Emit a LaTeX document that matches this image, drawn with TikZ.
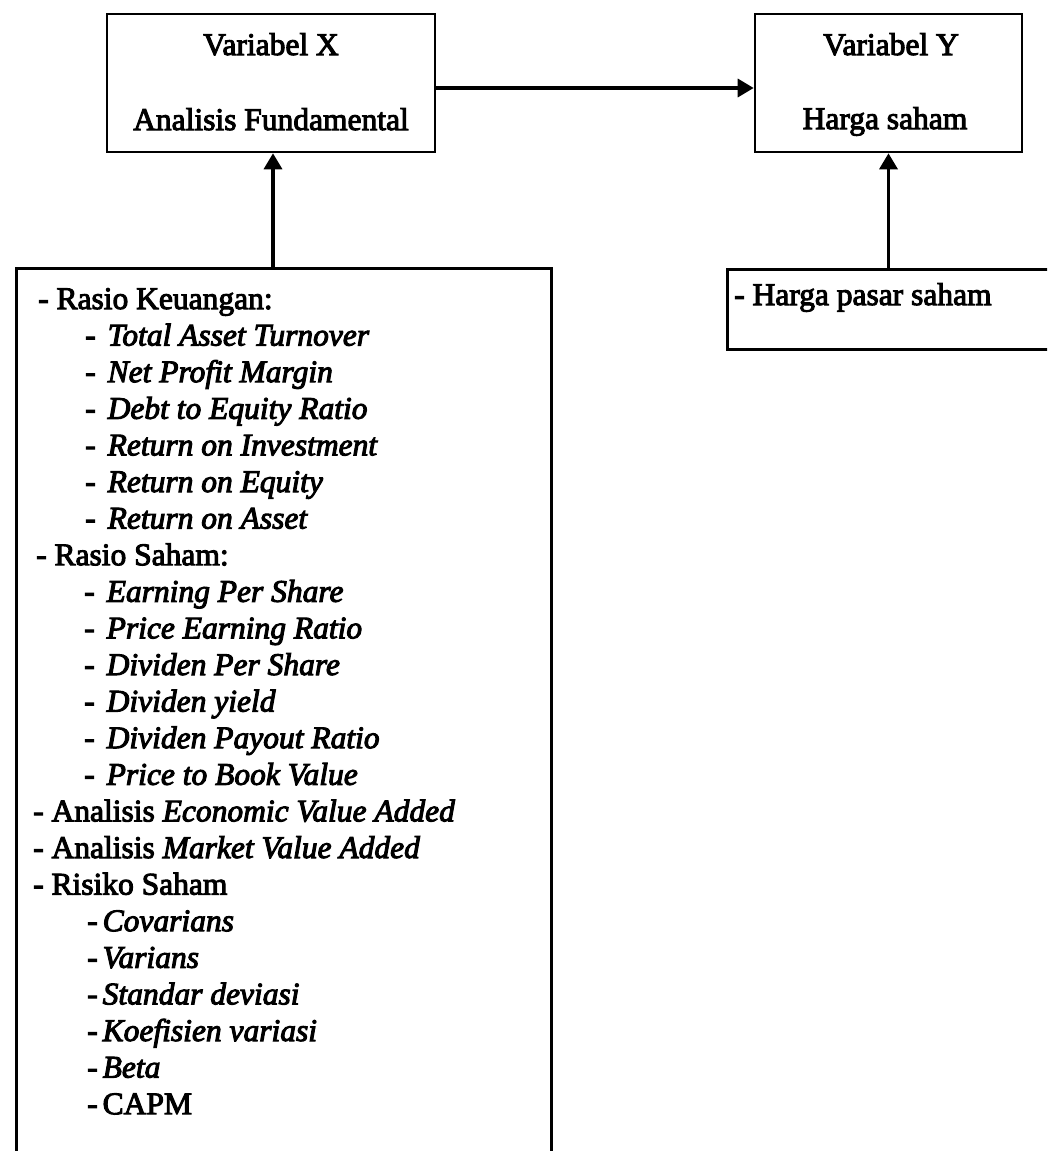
\documentclass[tikz,border=0pt]{standalone}
\usepackage{fontspec}
\setmainfont{Liberation Serif}[FakeBold=3.2]
\usetikzlibrary{arrows.meta}
\begin{document}
\begin{tikzpicture}[x=1pt,y=-1pt,
  boxst/.style={draw, line width=2.6pt, inner sep=0pt},
  txt/.style={inner sep=0pt, font=\fontsize{31.5}{36.6}\selectfont},
  arr/.style={line width=3.4pt, -{Triangle[length=16pt,width=18pt]}}]
\useasboundingbox (0,0) rectangle (1047,1151);
\clip (0,0) rectangle (1047,1151);
% boxes
\node[boxst, minimum width=328pt, minimum height=138pt] (bx) at (271,83) {};
\node[boxst, minimum width=267pt, minimum height=138pt] (by) at (888.5,83) {};
\node[boxst, minimum width=535pt, minimum height=910pt, anchor=north west] (fx) at (15,267) {};
\node[boxst, minimum width=340pt, minimum height=80pt, anchor=north west] (hp) at (726,268) {};
% box texts
\node[txt, anchor=base] (vx) at (271,55) {Variabel X};
\node[txt, anchor=base] (ax) at (271,130) {Analisis Fundamental};
\node[txt, anchor=base] (vy) at (891,55) {Variabel Y};
\node[txt, anchor=base] (hy) at (885,129) {Harga saham};
\node[txt, anchor=base west] (hps) at (734,305) {- Harga pasar saham};
% list
\foreach \xx/\t [count=\k from 0] in {
  38/{- Rasio Keuangan:},
  85/{-\hspace{12pt}\textit{Total Asset Turnover}},
  85/{-\hspace{12pt}\textit{Net Profit Margin}},
  85/{-\hspace{12pt}\textit{Debt to Equity Ratio}},
  85/{-\hspace{12pt}\textit{Return on Investment}},
  85/{-\hspace{12pt}\textit{Return on Equity}},
  85/{-\hspace{12pt}\textit{Return on Asset}},
  36/{- Rasio Saham:},
  84/{-\hspace{12pt}\textit{Earning Per Share}},
  84/{-\hspace{12pt}\textit{Price Earning Ratio}},
  84/{-\hspace{12pt}\textit{Dividen Per Share}},
  84/{-\hspace{12pt}\textit{Dividen yield}},
  84/{-\hspace{12pt}\textit{Dividen Payout Ratio}},
  84/{-\hspace{12pt}\textit{Price to Book Value}},
  33/{- Analisis \textit{Economic Value Added}},
  33/{- Analisis \textit{Market Value Added}},
  33/{- Risiko Saham},
  87/{-\hspace{5pt}\textit{Covarians}},
  87/{-\hspace{5pt}\textit{Varians}},
  87/{-\hspace{5pt}\textit{Standar deviasi}},
  87/{-\hspace{5pt}\textit{Koefisien variasi}},
  87/{-\hspace{5pt}\textit{Beta}},
  87/{-\hspace{5pt}CAPM}}
  \node[txt, anchor=base west] (l\k) at ({\xx},{309+\k*36.6}) {\t};
% connectors
\coordinate (xa) at ([xshift=2pt]bx.south);
\draw[arr] ([yshift=-5pt]bx.east) -- ([yshift=-5pt]by.west);
\draw[arr] (xa |- fx.north) -- (xa);
\draw[arr] (by.south |- hp.north) -- (by.south);
\end{tikzpicture}
\end{document}
